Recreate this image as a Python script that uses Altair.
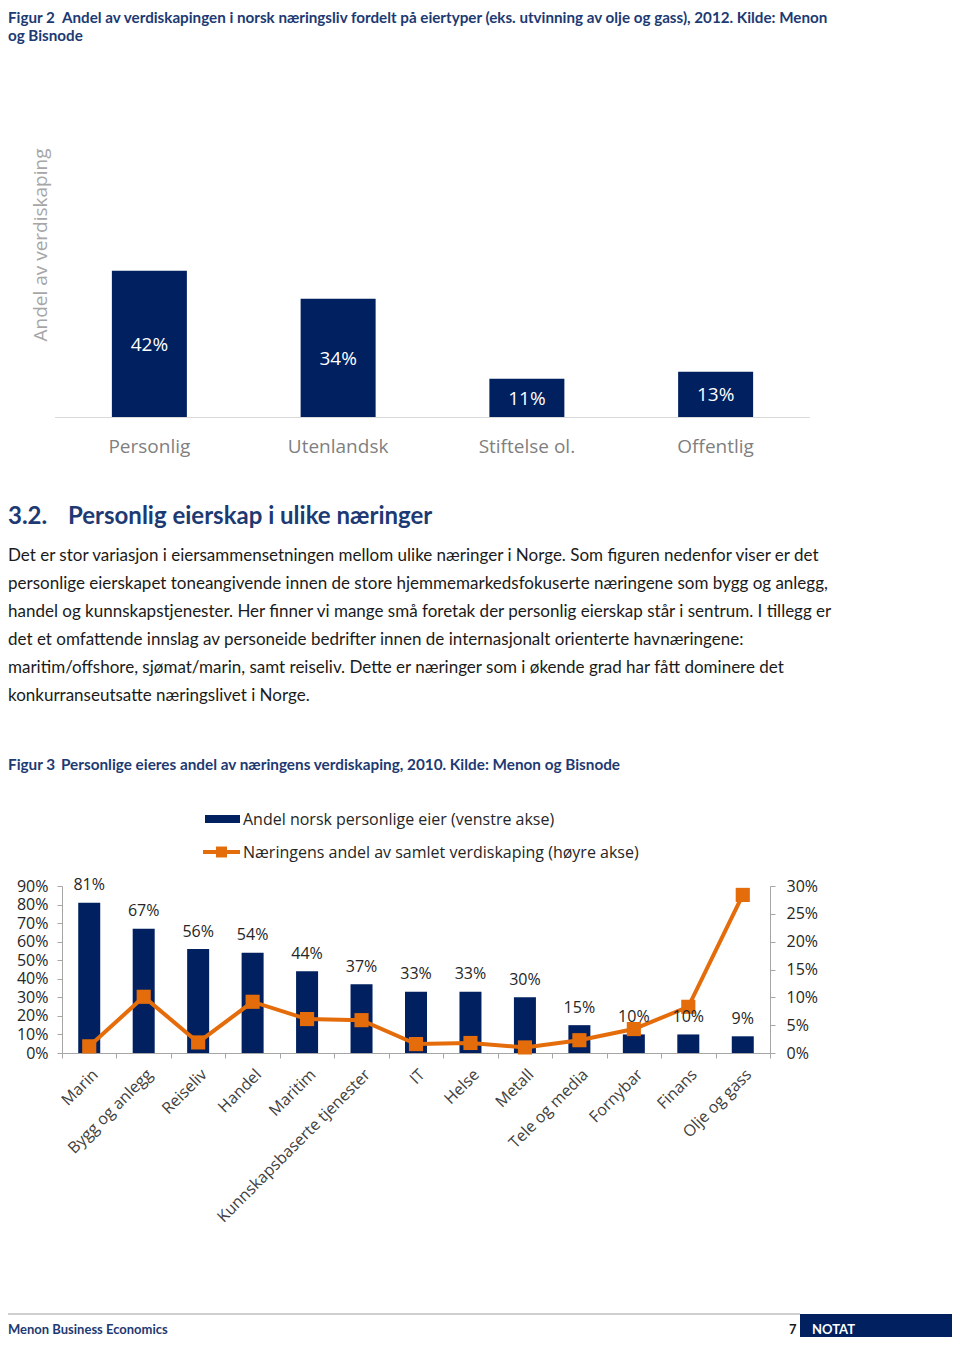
import altair as alt
import pandas as pd

# ---------------- data ----------------
fig2_cats = ["Personlig", "Utenlandsk", "Stiftelse ol.", "Offentlig"]
fig2_vals = [0.42, 0.34, 0.11, 0.13]

fig3_cats = ["Marin", "Bygg og anlegg", "Reiseliv", "Handel", "Maritim",
             "Kunnskapsbaserte tjenester", "IT", "Helse", "Metall",
             "Tele og media", "Fornybar", "Finans", "Olje og gass"]
fig3_personal = [0.81, 0.67, 0.56, 0.54, 0.44, 0.37, 0.33, 0.33, 0.30, 0.15, 0.10, 0.10, 0.09]
fig3_share = [0.012, 0.101, 0.019, 0.092, 0.061, 0.059, 0.016, 0.018, 0.010, 0.023, 0.043, 0.083, 0.284]
left_ticks = [0, 0.1, 0.2, 0.3, 0.4, 0.5, 0.6, 0.7, 0.8, 0.9]
right_ticks = [0, 0.05, 0.10, 0.15, 0.20, 0.25, 0.30]

fig2_caption_a = "Figur 2"
fig2_caption_b = "Andel av verdiskapingen i norsk næringsliv fordelt på eiertyper (eks. utvinning av olje og gass), 2012. Kilde: Menon"
fig2_caption_c = "og Bisnode"
fig2_ytitle = "Andel av verdiskaping"
heading_num = "3.2."
heading_txt = "Personlig eierskap i ulike næringer"
paragraph = [
    "Det er stor variasjon i eiersammensetningen mellom ulike næringer i Norge. Som figuren nedenfor viser er det",
    "personlige eierskapet toneangivende innen de store hjemmemarkedsfokuserte næringene som bygg og anlegg,",
    "handel og kunnskapstjenester. Her finner vi mange små foretak der personlig eierskap står i sentrum. I tillegg er",
    "det et omfattende innslag av personeide bedrifter innen de internasjonalt orienterte havnæringene:",
    "maritim/offshore, sjømat/marin, samt reiseliv. Dette er næringer som i økende grad har fått dominere det",
    "konkurranseutsatte næringslivet i Norge.",
]
fig3_caption_a = "Figur 3"
fig3_caption_b = "Personlige eieres andel av næringens verdiskaping, 2010. Kilde: Menon og Bisnode"
legend_bar = "Andel norsk personlige eier (venstre akse)"
legend_line = "Næringens andel av samlet verdiskaping (høyre akse)"
footer_left = "Menon Business Economics"
footer_page = "7"
footer_right = "NOTAT"

# ---------------- style ----------------
NAVY = "#002060"
CAP = "#1d3a73"
ORANGE = "#E46C0A"
FONT = "Open Sans"
TFONT = "Lato"
W, H = 944, 1329
AXC = "#a6a6a6"

one = pd.DataFrame({"k": [0]})


def txt(s, x, y, size, color="#1a1a1a", font=TFONT, weight="normal", align="left", angle=0, dy=0):
    return alt.Chart(pd.DataFrame({"t": [s]})).mark_text(
        align=align, baseline="middle", font=font, fontSize=size, fontWeight=weight,
        color=color, angle=angle, dy=dy
    ).encode(text="t:N", x=alt.value(x), y=alt.value(y))


layers = []

# ---- Figure 2 caption ----
layers.append(txt(fig2_caption_a, 0, 10, 15.2, CAP, weight="bold"))
layers.append(txt(fig2_caption_b, 54, 10, 15.2, CAP, weight="bold"))
layers.append(txt(fig2_caption_c, 0, 28, 15.2, CAP, weight="bold"))

# ---- Figure 2 chart ----
df2 = pd.DataFrame({"cat": fig2_cats, "val": fig2_vals})
df2["mid"] = df2["val"] / 2
df2["label"] = [f"{round(v * 100)}%" for v in fig2_vals]
x2s = alt.Scale(domain=fig2_cats, range=[47, 802], paddingInner=0, paddingOuter=0)
y2s = alt.Scale(domain=[0, 0.5], range=[409, 235], nice=False)
x2 = alt.X("cat:N", sort=fig2_cats, scale=x2s, axis=None)

layers.append(alt.Chart(one).mark_rule(color="#d9d9d9", strokeWidth=1).encode(
    x=alt.value(47), x2=alt.value(802), y=alt.value(409.5)))
layers.append(alt.Chart(df2).mark_bar(color=NAVY, size=75).encode(
    x=x2, y=alt.Y("val:Q", scale=y2s, axis=None)))
layers.append(alt.Chart(df2).mark_text(color="white", font=FONT, fontSize=19, baseline="middle", dy=1).encode(
    x=x2, y=alt.Y("mid:Q", scale=y2s, axis=None), text="label:N"))
layers.append(alt.Chart(df2).mark_text(color="#7f7f7f", font=FONT, fontSize=19, baseline="middle", dy=1).encode(
    x=x2, y=alt.value(438), text="cat:N"))
layers.append(txt(fig2_ytitle, 33, 237, 19, "#a6a6a6", font=FONT, align="center", angle=270))

# ---- heading + paragraph ----
layers.append(txt(heading_num, 0, 509, 24, CAP, weight="bold"))
layers.append(txt(heading_txt, 60, 509, 24, CAP, weight="bold"))
for i, line in enumerate(paragraph):
    layers.append(txt(line, 0, 547 + 28 * i, 17, "#1a1a1a", dy=1))

# ---- Figure 3 caption ----
layers.append(txt(fig3_caption_a, 0, 756, 15.3, CAP, weight="bold", dy=1))
layers.append(txt(fig3_caption_b, 53, 756, 15.3, CAP, weight="bold", dy=1))

# ---- legend ----
layers.append(alt.Chart(one).mark_rect(color=NAVY).encode(
    x=alt.value(197), x2=alt.value(232), y=alt.value(807), y2=alt.value(815)))
layers.append(txt(legend_bar, 235, 811, 16, "#262626", font=FONT, dy=1))
layers.append(alt.Chart(one).mark_rule(color=ORANGE, strokeWidth=4).encode(
    x=alt.value(195), x2=alt.value(232), y=alt.value(844)))
layers.append(alt.Chart(one).mark_square(color=ORANGE, size=120, opacity=1).encode(
    x=alt.value(213.5), y=alt.value(844)))
layers.append(txt(legend_line, 235, 844, 16, "#262626", font=FONT, dy=1))

# ---- Figure 3 chart ----
df3 = pd.DataFrame({"cat": fig3_cats, "pers": fig3_personal, "share": fig3_share})
df3["label"] = [f"{round(v * 100)}%" for v in fig3_personal]
x3s = alt.Scale(domain=fig3_cats, range=[54, 762], paddingInner=0, paddingOuter=0)
yl = alt.Scale(domain=[0, 0.9], range=[1045, 878], nice=False)
yr = alt.Scale(domain=[0, 0.3], range=[1045, 878], nice=False)

x3_axis = alt.Axis(orient="bottom", offset=-(H - 1045), labelAngle=-45, labelAlign="right",
                   labelBaseline="top", labelFont=FONT, labelFontSize=16, labelColor="#404040",
                   tickBand="extent", tickColor=AXC, tickSize=5, domainColor=AXC,
                   labelPadding=8, labelLimit=400, labelOverlap=False, title="", grid=False)
x3_plain = alt.X("cat:N", sort=fig3_cats, scale=x3s, axis=None)

layers.append(alt.Chart(df3).mark_bar(color=NAVY, size=22).encode(
    x=alt.X("cat:N", sort=fig3_cats, scale=x3s, axis=x3_axis),
    y=alt.Y("pers:Q", scale=yl, axis=alt.Axis(
        orient="left", offset=-54, values=left_ticks, format=".0%", labelFont=FONT,
        labelFontSize=16, labelColor="#262626", tickSize=5, tickColor=AXC,
        domainColor=AXC, labelPadding=9, grid=False, title="", labelOverlap=False))))
layers.append(alt.Chart(df3).mark_line(color=ORANGE, strokeWidth=4).encode(
    x=x3_plain,
    y=alt.Y("share:Q", scale=yr, axis=alt.Axis(
        orient="right", offset=-(W - 762), values=right_ticks, format=".0%", labelFont=FONT,
        labelFontSize=16, labelColor="#262626", tickSize=5, tickColor=AXC,
        domainColor=AXC, labelPadding=11, grid=False, title="", labelOverlap=False))))
layers.append(alt.Chart(df3).mark_square(color=ORANGE, size=200, opacity=1).encode(
    x=x3_plain, y=alt.Y("share:Q", scale=yr, axis=None)))
layers.append(alt.Chart(df3).mark_text(font=FONT, fontSize=16, color="#262626", baseline="middle", dy=-17.5).encode(
    x=x3_plain, y=alt.Y("pers:Q", scale=yl, axis=None), text="label:N"))

# ---- footer ----
layers.append(alt.Chart(one).mark_rule(color="#bfbfbf", strokeWidth=1.5).encode(
    x=alt.value(0), x2=alt.value(792), y=alt.value(1306)))
layers.append(alt.Chart(one).mark_rect(color=NAVY).encode(
    x=alt.value(792), x2=alt.value(W), y=alt.value(1306), y2=alt.value(1332)))
layers.append(txt(footer_left, 0, 1321, 13, CAP, weight="bold", dy=1))
layers.append(txt(footer_page, 781, 1321, 13, "#1a1a1a", weight="bold", dy=1))
layers.append(txt(footer_right, 804, 1321, 13, "white", weight="bold", dy=1))

chart = alt.layer(*layers).resolve_scale(x="independent", y="independent").properties(
    width=W, height=H, autosize=alt.AutoSizeParams(type="none"), padding=0
).configure_view(stroke=None)

chart.save("out.html", embed_options={"renderer": "svg", "actions": False})
